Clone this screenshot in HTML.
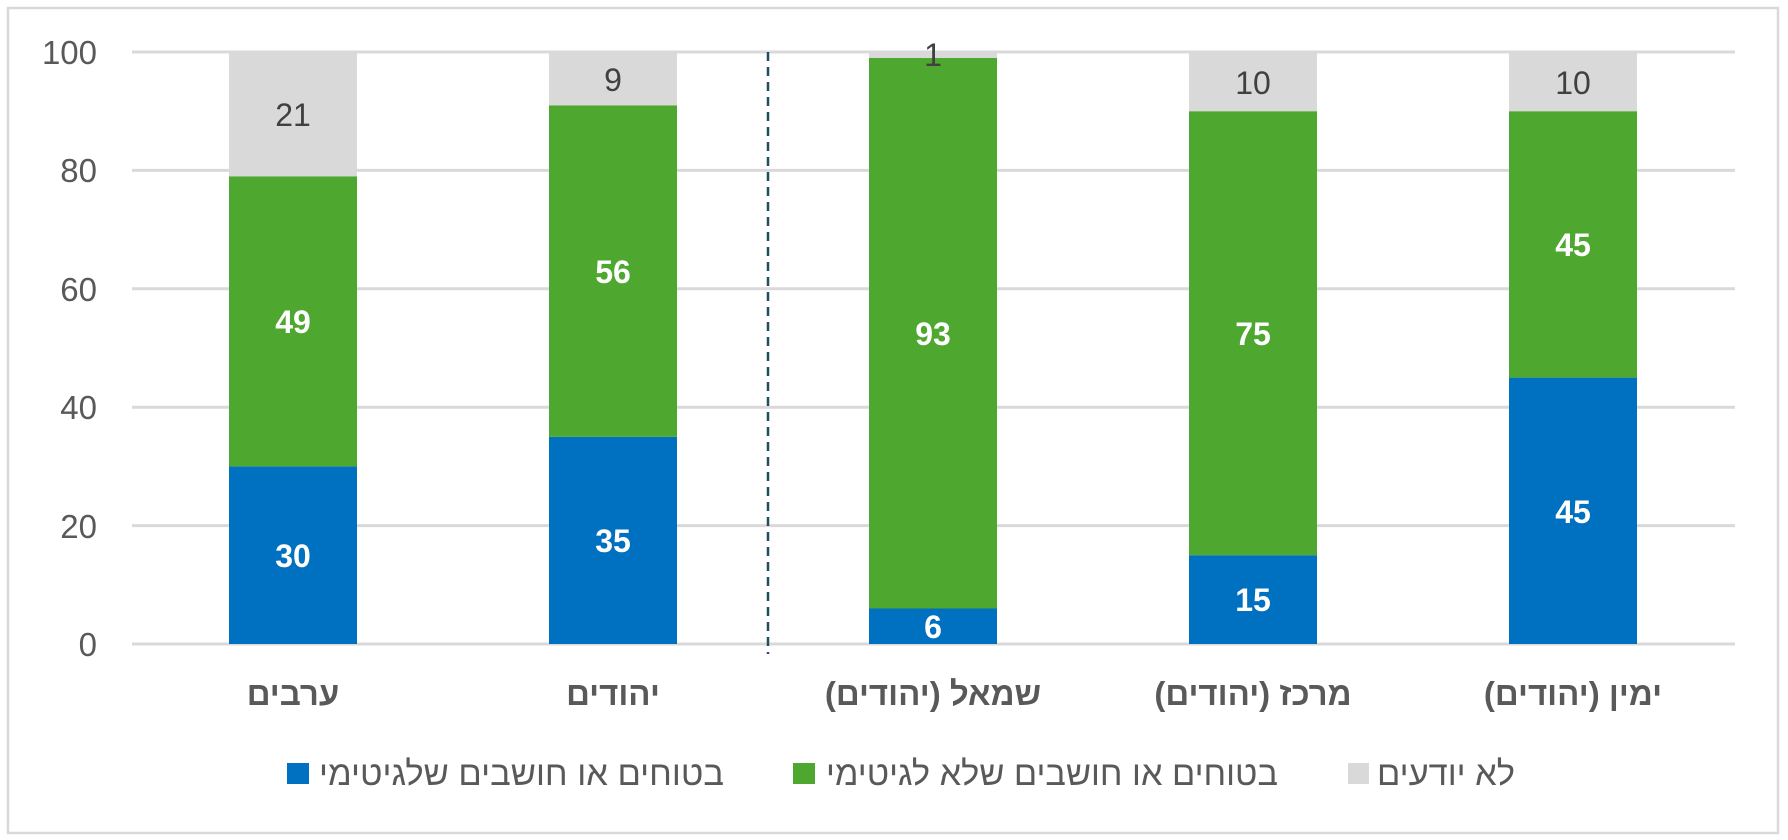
<!DOCTYPE html>
<html><head><meta charset="utf-8"><style>
body{margin:0;background:#fff}
svg{display:block}
text{font-family:"Liberation Sans","Noto Sans CJK SC",sans-serif}
</style></head><body>
<svg width="1788" height="840" viewBox="0 0 1788 840" xmlns="http://www.w3.org/2000/svg">
<rect x="0" y="0" width="1788" height="840" fill="#fff"/>
<rect x="8" y="8" width="1770" height="825" fill="none" stroke="#D9D9D9" stroke-width="2.5"/>
<g stroke="#D9D9D9" stroke-width="3">
<line x1="132" x2="1735" y1="52" y2="52"/>
<line x1="132" x2="1735" y1="170.4" y2="170.4"/>
<line x1="132" x2="1735" y1="288.8" y2="288.8"/>
<line x1="132" x2="1735" y1="407.2" y2="407.2"/>
<line x1="132" x2="1735" y1="525.6" y2="525.6"/>
<line x1="132" x2="1735" y1="644" y2="644"/>
</g>
<g font-size="33" fill="#595959" text-anchor="end">
<text x="97" y="64">100</text>
<text x="97" y="182">80</text>
<text x="97" y="301">60</text>
<text x="97" y="419">40</text>
<text x="97" y="538">20</text>
<text x="97" y="656">0</text>
</g>
<rect x="229" y="466.4" width="128" height="177.6" fill="#0070C0"/>
<rect x="229" y="176.3" width="128" height="290.1" fill="#4EA72E"/>
<rect x="229" y="52" width="128" height="124.3" fill="#D9D9D9"/>
<rect x="549" y="436.8" width="128" height="207.2" fill="#0070C0"/>
<rect x="549" y="105.3" width="128" height="331.5" fill="#4EA72E"/>
<rect x="549" y="52" width="128" height="53.3" fill="#D9D9D9"/>
<rect x="869" y="608.5" width="128" height="35.5" fill="#0070C0"/>
<rect x="869" y="57.9" width="128" height="550.6" fill="#4EA72E"/>
<rect x="869" y="52" width="128" height="5.9" fill="#D9D9D9"/>
<rect x="1189" y="555.2" width="128" height="88.8" fill="#0070C0"/>
<rect x="1189" y="111.2" width="128" height="444" fill="#4EA72E"/>
<rect x="1189" y="52" width="128" height="59.2" fill="#D9D9D9"/>
<rect x="1509" y="377.6" width="128" height="266.4" fill="#0070C0"/>
<rect x="1509" y="111.2" width="128" height="266.4" fill="#4EA72E"/>
<rect x="1509" y="52" width="128" height="59.2" fill="#D9D9D9"/>
<line x1="768" x2="768" y1="52" y2="654" stroke="#1F4E5F" stroke-width="2.5" stroke-dasharray="9,6"/>
<g font-size="32" font-weight="bold" fill="#fff" text-anchor="middle">
<text x="293" y="567">30</text><text x="293" y="333">49</text>
<text x="613" y="552">35</text><text x="613" y="283">56</text>
<text x="933" y="638">6</text><text x="933" y="345">93</text>
<text x="1253" y="611">15</text><text x="1253" y="345">75</text>
<text x="1573" y="523">45</text><text x="1573" y="256">45</text>
</g>
<g font-size="32" fill="#404040" text-anchor="middle">
<text x="293" y="126">21</text>
<text x="613" y="91">9</text>
<text x="933" y="66">1</text>
<text x="1253" y="94">10</text>
<text x="1573" y="94">10</text>
</g>
<g font-size="33" font-weight="bold" fill="#595959" text-anchor="middle" direction="rtl">
<text x="293" y="705">ערבים</text>
<text x="613" y="705">יהודים</text>
<text x="933" y="705">שמאל (יהודים)</text>
<text x="1253" y="705">מרכז (יהודים)</text>
<text x="1573" y="705">ימין (יהודים)</text>
</g>
<rect x="287" y="763" width="22" height="21" fill="#0070C0"/>
<rect x="793" y="763" width="22" height="21" fill="#4EA72E"/>
<rect x="1348" y="763" width="21" height="21" fill="#D9D9D9"/>
<g font-size="34" fill="#595959" direction="rtl">
<text x="724" y="785" textLength="405" lengthAdjust="spacingAndGlyphs">בטוחים או חושבים שלגיטימי</text>
<text x="1278" y="785" textLength="452" lengthAdjust="spacingAndGlyphs">בטוחים או חושבים שלא לגיטימי</text>
<text x="1515" y="785" textLength="138" lengthAdjust="spacingAndGlyphs">לא יודעים</text>
</g>
</svg>
</body></html>
